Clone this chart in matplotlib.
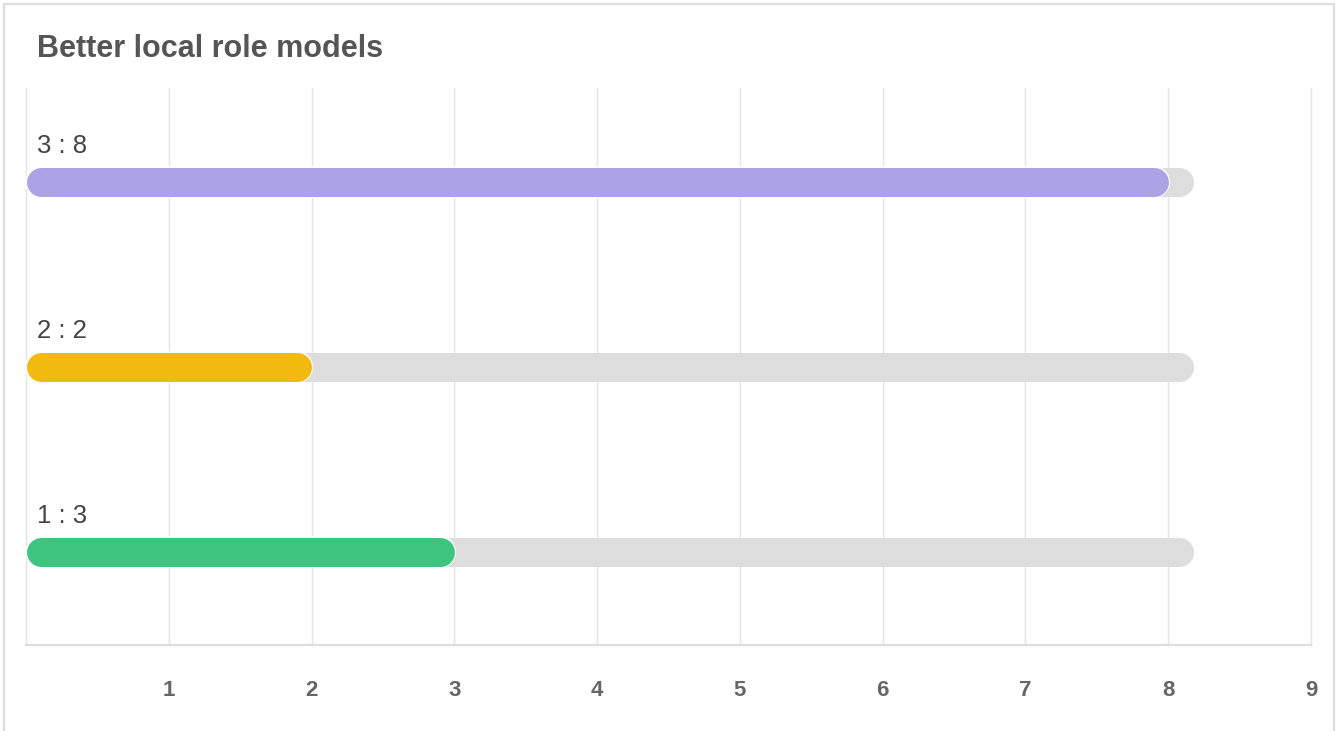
import matplotlib
matplotlib.use("Agg")
import matplotlib.pyplot as plt
import matplotlib.patheffects as pe
from matplotlib.patches import Rectangle

plt.rcParams['font.family'] = ['Liberation Sans', 'DejaVu Sans']

title = "Better local role models"
categories = ["1", "2", "3"]          # bottom to top
values = [3, 2, 8]
colors = ["#3DC47E", "#F2B90E", "#ACA3E4"]
track_value = 8.18                    # grey background track length
xticks = [1, 2, 3, 4, 5, 6, 7, 8, 9]

W, H = 1338, 731
fig = plt.figure(figsize=(W / 100, H / 100), dpi=100)

# outer card border
fig.patches.append(Rectangle((4 / W, -0.05), (1334 - 4) / W, 1.05 - 4 / H,
                             transform=fig.transFigure, fill=False,
                             edgecolor="#dddddd", linewidth=1.6))

fig.text(37 / W, 1 - 57 / H, title, fontsize=22, fontweight="bold",
         color="#555555", va="baseline", ha="left")

ax = fig.add_axes([26 / W, (H - 645) / H, (1311 - 26) / W, (645 - 88) / H])
ax.set_xlim(0, 9)
ax.set_ylim(-0.503, 2.508)

for s in ["top", "right", "left"]:
    ax.spines[s].set_visible(False)
ax.spines["bottom"].set_color("#dddddd")
ax.spines["bottom"].set_linewidth(1.6)

for x in [0] + xticks:
    ax.axvline(x, color="#e4e4e4", linewidth=1.0, zorder=0, clip_on=False)

ax.set_xticks(xticks)
ax.set_xticklabels([str(t) for t in xticks])
ax.set_yticks([])
ax.tick_params(axis="x", length=0, pad=25, labelsize=16, labelcolor="#666666")
for lbl in ax.get_xticklabels():
    lbl.set_fontweight("bold")

# bar thickness in pixels -> points, cap radius in data units
bar_px = 29
lw_pt = bar_px * 72 / 100
px_per_unit = (1311 - 26) / 9
r = (bar_px / 2) / px_per_unit

for i, (cat, v, c) in enumerate(zip(categories, values, colors)):
    ax.plot([r, track_value - r], [i, i], color="#dddddd", linewidth=lw_pt,
            solid_capstyle="round", zorder=2)
    ax.plot([r, v - r], [i, i], color=c, linewidth=lw_pt,
            solid_capstyle="round", zorder=3,
            path_effects=[pe.Stroke(linewidth=lw_pt + 2.2, foreground="white"),
                          pe.Normal()])
    ax.annotate(f"{cat} : {v}", xy=(0, i), xytext=(11, 36),
                textcoords="offset pixels", fontsize=18.5, color="#444444",
                ha="left", va="center")

fig.savefig("out.png", dpi=100)
